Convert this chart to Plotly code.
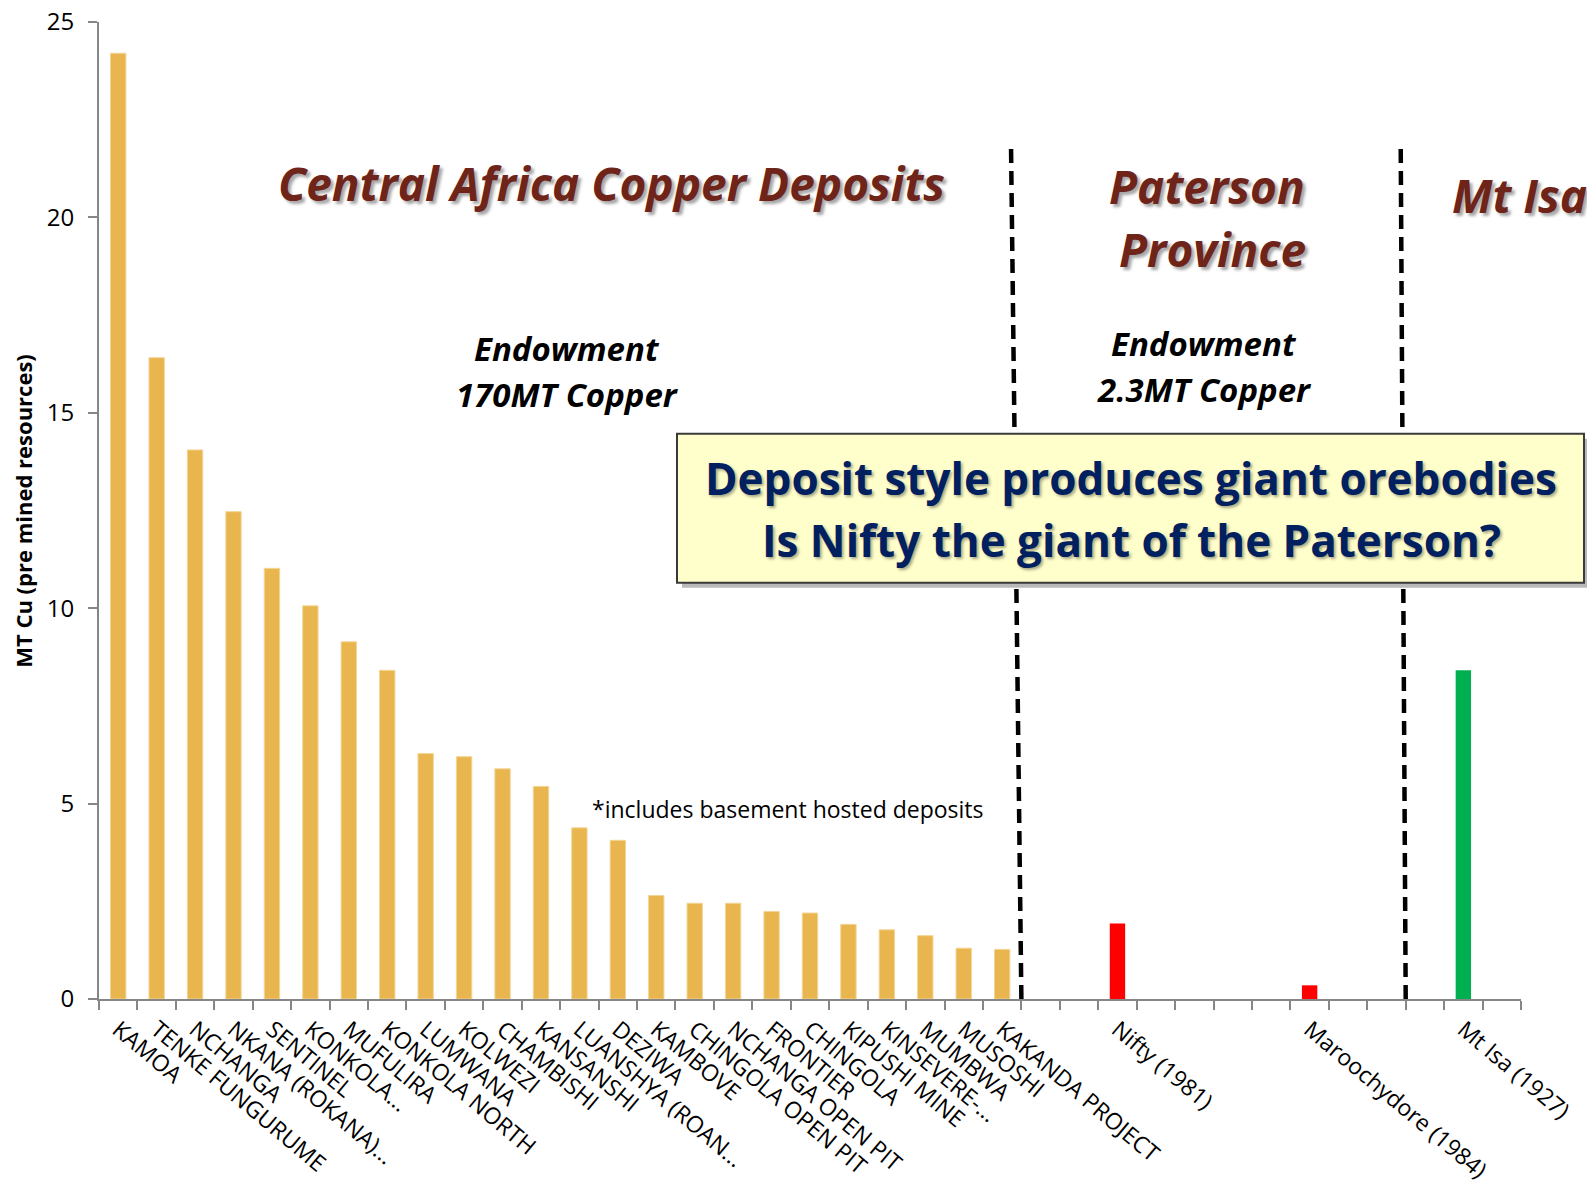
import plotly.graph_objects as go

# ---------------- data ----------------
africa_names = ["KAMOA", "TENKE FUNGURUME", "NCHANGA", "NKANA (ROKANA)...", "SENTINEL",
                "KONKOLA...", "MUFULIRA", "KONKOLA NORTH", "LUMWANA", "KOLWEZI",
                "CHAMBISHI", "KANSANSHI", "LUANSHYA (ROAN...", "DEZIWA", "KAMBOVE",
                "CHINGOLA OPEN PIT", "NCHANGA OPEN PIT", "FRONTIER", "CHINGOLA",
                "KIPUSHI MINE", "KINSEVERE-...", "MUMBWA", "MUSOSHI", "KAKANDA PROJECT"]
africa_values = [24.2, 16.41, 14.05, 12.47, 11.02, 10.06, 9.14, 8.41, 6.28, 6.20,
                 5.89, 5.44, 4.38, 4.06, 2.65, 2.45, 2.45, 2.24, 2.20, 1.91,
                 1.77, 1.62, 1.30, 1.27]

paterson_names = ["Nifty (1981)", "Maroochydore (1984)"]
paterson_values = [1.93, 0.35]

mtisa_names = ["Mt Isa (1927)"]
mtisa_values = [8.41]

# category order including empty slots (unique blank labels)
axis_order = (africa_names
              + [" ", "  ", "Nifty (1981)", "   ", "    ", "     ", "      ",
                 "Maroochydore (1984)", "       ", "        ", "         ",
                 "Mt Isa (1927)", "          "])

y_ticks = [0, 5, 10, 15, 20, 25]

# ---------------- geometry (page pixels; page body has an 8px margin) ----------------
OFF = 8
W, H = 1595 - OFF, 1186 - OFF
L, R, T, B = 99 - OFF, 1521 - OFF, 22.4 - OFF, 999 - OFF


def px(xp):
    return (xp - OFF - L) / (R - L)


def py(yp):
    return (B - (yp - OFF)) / (B - T)


fig = go.Figure()
fig.add_trace(go.Bar(x=africa_names, y=africa_values,
                     marker=dict(color="#E8B54E", line=dict(color="#F3D596", width=1))))
fig.add_trace(go.Bar(x=paterson_names, y=paterson_values, marker=dict(color="#FF0000", line=dict(width=0))))
fig.add_trace(go.Bar(x=mtisa_names, y=mtisa_values, marker=dict(color="#00B050", line=dict(width=0))))

fig.update_layout(
    width=W, height=H,
    margin=dict(l=L, r=W - R, t=T, b=H - B, autoexpand=False),
    paper_bgcolor="white", plot_bgcolor="white",
    showlegend=False, barmode="overlay", bargap=0.6,
    font=dict(family="Open Sans, sans-serif", color="black"),
)
fig.update_xaxes(
    type="category", categoryorder="array", categoryarray=axis_order,
    range=[-0.5, len(axis_order) - 0.5], automargin=False,
    showline=True, linecolor="#868686", linewidth=2,
    ticks="outside", tickson="boundaries", ticklen=9, tickcolor="#868686", tickwidth=2,
    tickangle=40, ticklabelstandoff=6, ticklabeloverflow="allow",
    tickfont=dict(size=23, family="Open Sans, sans-serif", color="black"),
    showgrid=False, zeroline=False,
)
fig.update_yaxes(
    range=[0, 25], tickvals=y_ticks, automargin=False,
    showline=True, linecolor="#868686", linewidth=2,
    ticks="outside", ticklen=9, tickcolor="#868686", tickwidth=2, ticklabelstandoff=9,
    ticklabeloverflow="allow",
    tickfont=dict(size=24, family="Open Sans, sans-serif", color="black"),
    showgrid=False, zeroline=False,
)

shapes = []
# dashed dividers (slightly slanted as in the original)
for xb, xt in [(23.5, 23.23), (33.5, 33.37)]:
    shapes.append(dict(type="line", xref="x", yref="y", x0=xb, y0=0, x1=xt, y1=21.87,
                       line=dict(color="black", width=4.5, dash="14px,8px")))
# box shadow and box
bx0, bx1, by0, by1 = 677, 1584, 434, 583
shapes.append(dict(type="rect", xref="paper", yref="paper",
                   x0=px(bx0 + 5), x1=px(bx1 + 5), y0=py(by1 + 5), y1=py(by0 + 5),
                   fillcolor="rgba(80,80,80,0.4)", line=dict(width=0)))
shapes.append(dict(type="rect", xref="paper", yref="paper",
                   x0=px(bx0), x1=px(bx1), y0=py(by1), y1=py(by0),
                   fillcolor="#FFFFCC", line=dict(color="#3a3a3a", width=2)))
fig.update_layout(shapes=shapes)

title_font = dict(family="Open Sans, sans-serif", size=46, color="#6E2419", weight="bold", style="italic",
                  shadow="3px 3px 3px rgba(0,0,0,0.35)")
endow_font = dict(family="Open Sans, sans-serif", size=33, color="black", weight="bold", style="italic")

ann = []


def add(text, x, y, font, xanchor="center", textangle=0):
    ann.append(dict(text=text, xref="paper", yref="paper", x=px(x), y=py(y), showarrow=False,
                    xanchor=xanchor, yanchor="middle", font=font, align="center", textangle=textangle))


add("Central Africa Copper Deposits", 611, 183, title_font)
add("Paterson", 1207, 186, title_font)
add("Province", 1212, 249, title_font)
add("Mt Isa", 1450, 195, title_font, xanchor="left")
add("Endowment", 567, 349, endow_font)
add("170MT Copper", 567, 395, endow_font)
add("Endowment", 1204, 344, endow_font)
add("2.3MT Copper", 1204, 390, endow_font)
box_font = dict(family="Open Sans, sans-serif", size=44, color="#002060", weight="bold",
                shadow="2px 2px 3px rgba(0,0,0,0.35)")
add("Deposit style produces giant orebodies", 1131, 478, box_font)
add("Is Nifty the giant of the Paterson?", 1131, 540, box_font)
add("*includes basement hosted deposits", 788, 809,
    dict(family="Open Sans, sans-serif", size=23, color="black"))
add("MT Cu (pre mined resources)", 23, 511,
    dict(family="Open Sans, sans-serif", size=22, color="black", weight="bold"), textangle=-90)

fig.update_layout(annotations=ann)

fig.write_html("out.html")
